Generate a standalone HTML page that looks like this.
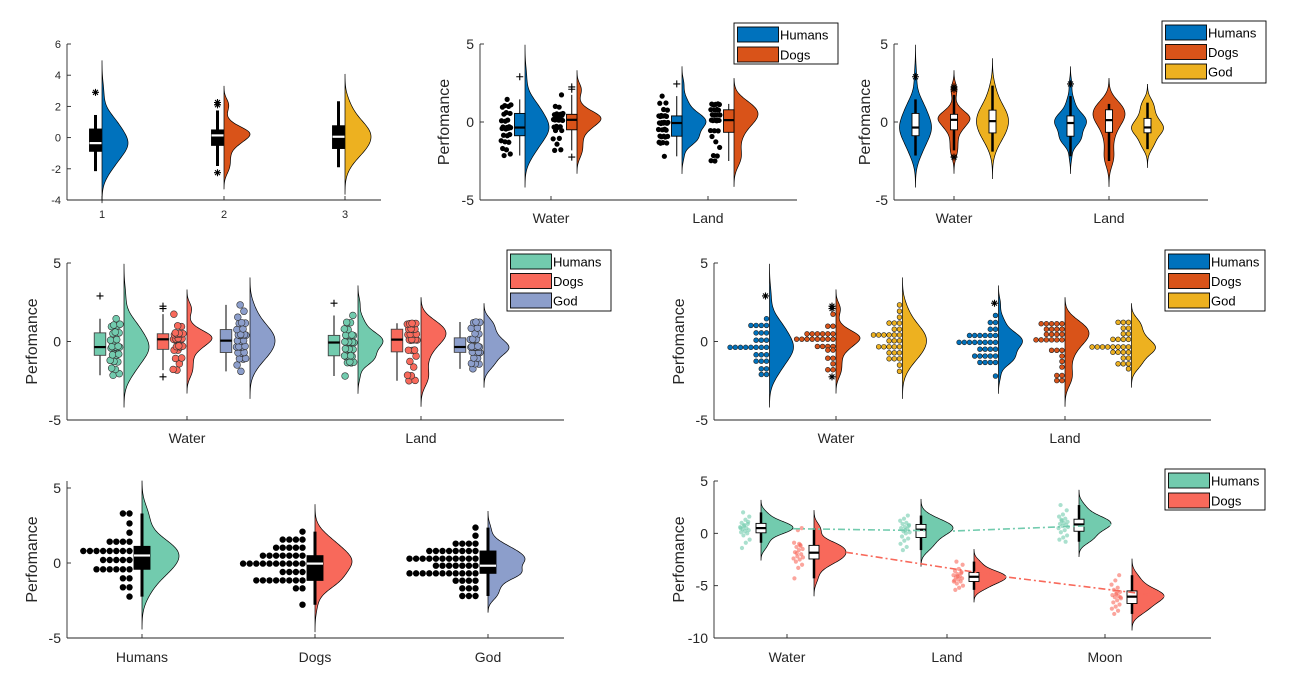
<!DOCTYPE html>
<html><head><meta charset="utf-8"><style>
html,body{margin:0;padding:0;background:#fff;}
svg{display:block;font-family:"Liberation Sans",Arial,sans-serif;}
</style></head><body>
<svg id="fig" width="1292" height="688" xmlns="http://www.w3.org/2000/svg"></svg>
<script>
// ---------- data ----------
const groupNames3 = ['Humans','Dogs','God'];
const groupNames2 = ['Humans','Dogs'];
const conds2 = ['Water','Land'];
const conds3 = ['Water','Land','Moon'];
const panel1Ticks = ['1','2','3'];
const yTicksP1 = [6,4,2,0,-2,-4];
const yTicks5 = [5,0,-5];
const yTicksP7 = [5,0,-5,-10];

const humansWater = [2.9,1.45,1.1,1.0,0.95,1.05,0.6,0.5,0.55,0.12,0.05,0.08,-0.3,-0.35,-0.4,-0.45,-0.38,-0.32,-0.42,-0.36,-0.8,-0.85,-0.88,-1.2,-1.3,-1.27,-1.7,-1.78,-2.15,-2.05];
const dogsWater = [2.25,2.1,1.74,1.0,0.95,0.55,0.45,0.5,0.52,0.47,0.43,0.15,0.2,0.1,0.18,0.12,0.14,0.16,0.13,-0.3,-0.35,-0.28,-0.33,-0.55,-0.55,-1.05,-1.08,-1.42,-1.78,-1.82,-2.25];
const godWater = [2.33,1.93,1.55,1.2,1.15,1.17,0.8,0.76,0.45,0.4,0.42,0.38,0.44,0.41,0.05,0.02,0.06,-0.3,-0.35,-0.34,-0.36,-0.33,-0.7,-0.72,-0.74,-1.1,-1.08,-1.12,-1.5,-1.9];
const humansLand = [2.44,1.66,1.2,1.22,0.8,0.76,0.4,0.36,0.38,0.35,0.42,0.39,-0.05,-0.08,-0.04,-0.06,-0.07,-0.03,-0.1,-0.02,-0.5,-0.48,-0.52,-0.46,-0.9,-0.95,-0.92,-0.96,-0.91,-1.3,-1.35,-1.32,-1.36,-2.2];
const dogsLand = [1.15,1.1,1.12,1.13,1.16,0.8,0.76,0.78,0.79,0.45,0.47,0.44,0.46,0.1,0.12,0.08,0.11,0.09,0.13,-0.56,-0.55,-0.57,-0.93,-1.27,-1.63,-2.15,-2.18,-2.5,-2.48];
const godLand = [1.22,1.2,1.24,0.86,0.84,0.5,0.48,0.14,0.12,0.13,0.15,-0.3,-0.32,-0.36,-0.35,-0.37,-0.38,-0.34,-0.36,-0.68,-0.67,-0.69,-0.7,-1.06,-1.05,-1.42,-1.4,-1.44,-1.74];

const humans6 = [3.3,3.3,2.64,2.02,1.42,1.42,1.42,1.42,0.8,0.8,0.8,0.8,0.8,0.8,0.8,0.8,0.2,0.2,0.2,0.2,0.2,-0.42,-0.42,-0.42,-0.42,-0.42,-0.42,-1.02,-1.02,-1.62,-1.62,-2.24];
const dogs6 = [2.09,1.56,1.56,1.56,1.56,1.02,1.02,1.02,1.02,1.02,0.49,0.49,0.49,0.49,0.49,0.49,0.49,-0.04,-0.04,-0.04,-0.04,-0.04,-0.04,-0.04,-0.04,-0.04,-0.04,-0.6,-0.6,-0.6,-0.6,-1.16,-1.16,-1.16,-1.16,-1.16,-1.16,-1.16,-1.16,-1.69,-1.69,-2.78];
const god6 = [2.36,1.82,1.29,1.29,1.29,1.29,0.8,0.8,0.8,0.8,0.8,0.8,0.8,0.8,0.29,0.29,0.29,0.29,0.29,0.29,0.29,0.29,0.29,0.29,0.29,-0.18,-0.18,-0.18,-0.18,-0.18,-0.18,-0.18,-0.69,-0.69,-0.69,-0.69,-0.69,-0.69,-0.69,-0.69,-0.69,-0.69,-0.69,-1.18,-1.18,-1.18,-1.18,-1.69,-1.69,-1.69,-2.2,-2.2,-2.2];

const humansWater7 = [2.0,1.6,1.3,1.0,0.9,0.7,0.6,0.5,0.4,0.3,0.2,0.1,0,-0.2,-0.6,-0.9,-1.4,1.1,0.8,0.5];
const dogsWater7 = [0.5,0.3,-0.9,-1.1,-1.3,-1.5,-1.6,-1.8,-2.0,-2.2,-2.4,-2.5,-2.7,-3.0,-3.3,-4.3,-1.2,-1.9,-2.3,-1.0];
const humansLand7 = [1.7,1.4,1.2,1.0,0.9,0.7,0.6,0.5,0.4,0.2,0.1,0,-0.3,-0.5,-0.7,-1.0,-1.3,-1.6,0.8,0.3];
const dogsLand7 = [-2.7,-3.0,-3.4,-3.6,-3.8,-3.9,-4.0,-4.1,-4.2,-4.3,-4.4,-4.5,-4.6,-4.8,-5.0,-5.2,-5.4,-3.7,-4.1,-4.6];
const humansMoon7 = [2.7,2.2,1.8,1.6,1.4,1.3,1.1,1.0,0.9,0.8,0.7,0.5,0.3,0.1,-0.2,-0.4,-0.6,-0.8,1.2,0.6];
const dogsMoon7 = [-4.0,-4.5,-4.9,-5.2,-5.4,-5.6,-5.8,-5.9,-6.0,-6.1,-6.2,-6.4,-6.6,-6.8,-7.0,-7.2,-7.4,-7.7,-6.1,-5.7];

// ---------- styling ----------
const COL1 = ['#0072BD','#D95319','#EDB120'];
const COL2 = ['#72CBAE','#F8695B','#8C9ECB'];
const AX = '#262626';
const NS = 'http://www.w3.org/2000/svg';
const svg = document.getElementById('fig');
function mk(tag, attrs, parent){const e=document.createElementNS(NS,tag);for(const k in attrs)e.setAttribute(k,attrs[k]);(parent||svg).appendChild(e);return e;}

// ---------- stats ----------
function srt(a){return a.slice().sort((x,y)=>x-y);}
function prc(s,p){const n=s.length;const pos=p*n+0.5;if(pos<=1)return s[0];if(pos>=n)return s[n-1];const i=Math.floor(pos);return s[i-1]+(pos-i)*(s[i]-s[i-1]);}
function stats(a){const s=srt(a);const q1=prc(s,.25),md=prc(s,.5),q3=prc(s,.75),iq=q3-q1;const lo=q1-1.5*iq,hi=q3+1.5*iq;const inl=s.filter(v=>v>=lo&&v<=hi);return {q1,md,q3,wlo:inl[0],whi:inl[inl.length-1],out:s.filter(v=>v<lo||v>hi),inl,mean:a.reduce((x,y)=>x+y,0)/a.length};}
function kde(a){const s=srt(a),n=s.length;const md=prc(s,.5);let mad=prc(srt(s.map(v=>Math.abs(v-md))),.5);if(mad<0.05)mad=0.3;const bw=mad/0.6745*Math.pow(4/(3*n),0.2);const lo=s[0]-3*bw,hi=s[n-1]+3*bw;const ys=[],ds=[];for(let i=0;i<=140;i++){const y=lo+(hi-lo)*i/140;let d=0;for(const v of s)d+=Math.exp(-0.5*((y-v)/bw)**2);ys.push(y);ds.push(d);}const mx=Math.max(...ds);return {ys,ds:ds.map(d=>d/mx)};}
function rows(a){const s=srt(a).reverse();const out=[];let cur=null;for(const v of s){if(!cur||cur.start-v>0.2){cur={start:v,vals:[]};out.push(cur);}cur.vals.push(v);}return out.map(r=>({y:r.vals.reduce((x,y)=>x+y,0)/r.vals.length,n:r.vals.length}));}
function jit(i){return ((i*0.6180339+0.31)%1)*2-1;}

// ---------- axes ----------
function makeAxes(p){
  const g=mk('g',{});
  
  
  p.g=g;
  p.Y=v=>p.pA+(v-p.vA)*(p.pB-p.pA)/(p.vB-p.vA);
  const ya=mk('line',{x1:p.x0,y1:p.top,x2:p.x0,y2:p.bot,stroke:AX,'stroke-width':0.9},g);
  
  
  const xa=mk('line',{x1:p.x0,y1:p.bot,x2:p.x1,y2:p.bot,stroke:AX,'stroke-width':0.9},g);
  
  
  for(const t of p.yt){
    const y=p.Y(t);
    const tk=mk('line',{x1:p.x0,y1:y,x2:p.x0+4,y2:y,stroke:AX,'stroke-width':0.9},g);
    
    
    const tl=mk('text',{x:p.x0-6,y:y+p.fs*0.36,'text-anchor':'end','font-size':p.fs,fill:AX},g);
    
    
    tl.textContent=String(t);
  }
  p.cats.forEach((c,i)=>{
    const x=p.cx[i];
    const tk=mk('line',{x1:x,y1:p.bot,x2:x,y2:p.bot-4,stroke:AX,'stroke-width':0.9},g);
    
    
    const tl=mk('text',{x:x,y:p.bot+p.xoff,'text-anchor':'middle','font-size':p.xfs,fill:AX},g);
    
    
    tl.textContent=c;
  });
  if(p.ylab){
    const cy=(p.top+p.bot)/2;
    const yl=mk('text',{x:p.ylx,y:cy,'text-anchor':'middle','font-size':16,fill:AX,transform:`rotate(-90 ${p.ylx} ${cy})`,'dominant-baseline':'middle'},g);
    
    
    yl.textContent='Perfomance';
  }
}
function legend(x,y,w,h,names,cols,pitch){
  const g=mk('g',{});
  
  
  const bx=mk('rect',{x:x,y:y,width:w,height:h,fill:'#fff',stroke:'#000','stroke-width':0.9},g);
  
  
  names.forEach((n,i)=>{
    const r=mk('rect',{x:x+3.5,y:y+4+i*pitch,width:41,height:15,fill:cols[i],stroke:'#000','stroke-width':0.9},g);
    
    
    const t=mk('text',{x:x+46,y:y+16.5+i*pitch,'font-size':13,fill:'#000'},g);
    
    
    t.textContent=n;
  });
}
// ---------- marks ----------
function halfViolin(p,base,data,W,color){
  const k=kde(data);let d=`M${base},${p.Y(k.ys[0])}`;
  k.ys.forEach((y,i)=>{d+=` L${(base+W*k.ds[i]).toFixed(2)},${p.Y(y).toFixed(2)}`;});
  d+=` L${base},${p.Y(k.ys[k.ys.length-1])} Z`;
  const e=mk('path',{d:d,fill:color,stroke:'#000','stroke-width':0.7},p.g);
  
  
}
function fullViolin(p,cx,data,W,color){
  const k=kde(data);const pts=k.ys.map((y,i)=>[cx+W*k.ds[i],p.Y(y)]);const lp=k.ys.map((y,i)=>[cx-W*k.ds[i],p.Y(y)]).reverse();
  const d='M'+pts.concat(lp).map(q=>q[0].toFixed(2)+','+q[1].toFixed(2)).join(' L')+' Z';
  const e=mk('path',{d:d,fill:color,stroke:'#000','stroke-width':0.7},p.g);
  
  
}
function box(p,cx,w,st,o){
  const wl=mk('line',{x1:cx,y1:p.Y(st.wlo),x2:cx,y2:p.Y(st.whi),stroke:'#000','stroke-width':o.ww},p.g);
  
  
  const b=mk('rect',{x:cx-w/2,y:p.Y(st.q3),width:w,height:p.Y(st.q1)-p.Y(st.q3),fill:o.fill,stroke:o.stroke,'stroke-width':0.9},p.g);
  
  
  const m=mk('line',{x1:cx-w/2,y1:p.Y(st.md),x2:cx+w/2,y2:p.Y(st.md),stroke:o.med,'stroke-width':2.2},p.g);
  
  
  if(o.mark) st.out.forEach(v=>marker(p,cx,p.Y(v),o.mark));
}
function marker(p,x,y,type){
  const s=3.5;let d=`M${x-s},${y} L${x+s},${y} M${x},${y-s} L${x},${y+s}`;
  if(type==='*') d+=` M${x-s*.7},${y-s*.7} L${x+s*.7},${y+s*.7} M${x-s*.7},${y+s*.7} L${x+s*.7},${y-s*.7}`;
  const e=mk('path',{d:d,stroke:'#000','stroke-width':1.1,fill:'none'},p.g);
  
  
}
function dot(p,x,y,r,fill,stroke,op){
  const c=mk('circle',{cx:x,cy:y,r:r,fill:fill,stroke:stroke,'stroke-width':stroke==='none'?0:0.6,'fill-opacity':op},p.g);
  
  
}

// ---------- panel 1 ----------
const P1={name:'panel-1',x0:67,x1:381,top:44,bot:200,vA:6,pA:44,vB:-4,pB:200,yt:yTicksP1,fs:11,cats:panel1Ticks,cx:[102,224,345],xfs:11,xoff:18};
makeAxes(P1);
[humansWater,dogsWater,godWater].forEach((d,i)=>{
  const b=P1.cx[i];halfViolin(P1,b,d,26,COL1[i]);
  box(P1,b-6.5,12,stats(d),{fill:'#000',stroke:'#000',med:'#fff',ww:3,mark:'*'});
});
// ---------- panel 2 ----------
const P2={name:'panel-2',x0:480,x1:797,top:44,bot:200,vA:5,pA:44,vB:-5,pB:200,yt:yTicks5,fs:14,cats:conds2,cx:[551,708],xfs:14,xoff:23,ylab:true,ylx:445};
makeAxes(P2);
[[humansWater,dogsWater],[humansLand,dogsLand]].forEach((gs,ci)=>{
  gs.forEach((d,gi)=>{
    const b=P2.cx[ci]+(gi?26:-26);const st=stats(d);
    halfViolin(P2,b,d,24,COL1[gi]);
    box(P2,b-5.25,10.5,st,{fill:COL1[gi],stroke:'#000',med:'#000',ww:1,mark:'+'});
    st.inl.forEach((v,k)=>dot(P2,b-19+5*jit(k+ci*7+gi*3),P2.Y(v),2.6,'#000','none',1));
  });
});
legend(734,23,104,41,groupNames2,COL1,20);
// ---------- panel 3 ----------
const P3={name:'panel-3',x0:894,x1:1208,top:44,bot:200,vA:5,pA:44,vB:-5,pB:200,yt:yTicks5,fs:14,cats:conds2,cx:[954,1109],xfs:14,xoff:23,ylab:true,ylx:866};
makeAxes(P3);
[[humansWater,dogsWater,godWater],[humansLand,dogsLand,godLand]].forEach((gs,ci)=>{
  gs.forEach((d,gi)=>{
    const c=P3.cx[ci]+(gi-1)*38.5;
    fullViolin(P3,c,d,16,COL1[gi]);
    box(P3,c,7,stats(d),{fill:'#fff',stroke:'#000',med:'#000',ww:2.5,mark:'*'});
  });
});
legend(1162,21,104,62,groupNames3,COL1,19.5);
// ---------- panel 4 ----------
const P4={name:'panel-4',x0:67,x1:564,top:263,bot:420,vA:5,pA:263,vB:-5,pB:420,yt:yTicks5,fs:14,cats:conds2,cx:[187,421],xfs:14,xoff:23,ylab:true,ylx:33};
makeAxes(P4);
[[humansWater,dogsWater,godWater],[humansLand,dogsLand,godLand]].forEach((gs,ci)=>{
  gs.forEach((d,gi)=>{
    const b=P4.cx[ci]+(gi-1)*63;const st=stats(d);
    halfViolin(P4,b,d,25,COL2[gi]);
    box(P4,b-24,11.5,st,{fill:COL2[gi],stroke:'#444',med:'#000',ww:1,mark:'+'});
    st.inl.forEach((v,k)=>dot(P4,b-9+5*jit(k+gi*5+ci*11),P4.Y(v),3.4,COL2[gi],'#333',1));
  });
});
legend(507,250,104,61,groupNames3,COL2,19.5);
// ---------- panel 5 ----------
const P5={name:'panel-5',x0:714,x1:1211,top:263,bot:420,vA:5,pA:263,vB:-5,pB:420,yt:yTicks5,fs:14,cats:conds2,cx:[836,1065],xfs:14,xoff:23,ylab:true,ylx:680};
makeAxes(P5);
[[humansWater,dogsWater,godWater],[humansLand,dogsLand,godLand]].forEach((gs,ci)=>{
  gs.forEach((d,gi)=>{
    const b=P5.cx[ci]+(gi-1)*66.5;const st=stats(d);
    halfViolin(P5,b,d,24,COL1[gi]);
    rows(st.inl).forEach(r=>{for(let k=0;k<r.n;k++)dot(P5,b-3-k*5.2,P5.Y(r.y),2.4,COL1[gi],'#222',1);});
    st.out.forEach(v=>marker(P5,b-4,P5.Y(v),'*'));
  });
});
legend(1165,250,100,61,groupNames3,COL1,19.5);
// ---------- panel 6 ----------
const P6={name:'panel-6',x0:67,x1:564,top:481,bot:638,vA:5,pA:488,vB:-5,pB:638,yt:yTicks5,fs:14,cats:groupNames3,cx:[142,315,488],xfs:14,xoff:24,ylab:true,ylx:33};
makeAxes(P6);
[humans6,dogs6,god6].forEach((d,gi)=>{
  const b=P6.cx[gi];const st=stats(d);
  halfViolin(P6,b,d,37,COL2[gi]);
  box(P6,b,16,st,{fill:'#000',stroke:'#000',med:'#fff',ww:3,mark:null});
  rows(d).forEach(r=>{for(let k=0;k<r.n;k++)dot(P6,b-12.5-k*6.6,P6.Y(r.y),3.2,'#000','none',1);});
});
// ---------- panel 7 ----------
const P7={name:'panel-7',x0:714,x1:1211,top:481,bot:638,vA:5,pA:481,vB:-10,pB:638,yt:yTicksP7,fs:14,cats:conds3,cx:[787,947,1105],xfs:14,xoff:24,ylab:true,ylx:680};
makeAxes(P7);
const series7=[[humansWater7,humansLand7,humansMoon7],[dogsWater7,dogsLand7,dogsMoon7]];
const linePts=[[],[]];
series7.forEach((ser,gi)=>{
  ser.forEach((d,ci)=>{
    const b=P7.cx[ci]+(gi?27:-26);const st=stats(d);
    d.forEach((v,k)=>dot(P7,b-16+5*jit(k+gi*9+ci*4),P7.Y(v),2.1,COL2[gi],'none',0.6));
    halfViolin(P7,b,d,32,COL2[gi]);
    box(P7,b,10,st,{fill:'#fff',stroke:'#000',med:'#000',ww:2.5,mark:null});
    linePts[gi].push([b+32,P7.Y(st.mean)]);
  });
});
linePts.forEach((pts,gi)=>{
  const ln=mk('polyline',{points:pts.map(q=>q.join(',')).join(' '),fill:'none',stroke:COL2[gi],'stroke-width':1.6,'stroke-dasharray':'7 3 2 3'},P7.g);
  
  
});
legend(1165,469,100,41,groupNames2,COL2,20);
</script>
</body></html>
